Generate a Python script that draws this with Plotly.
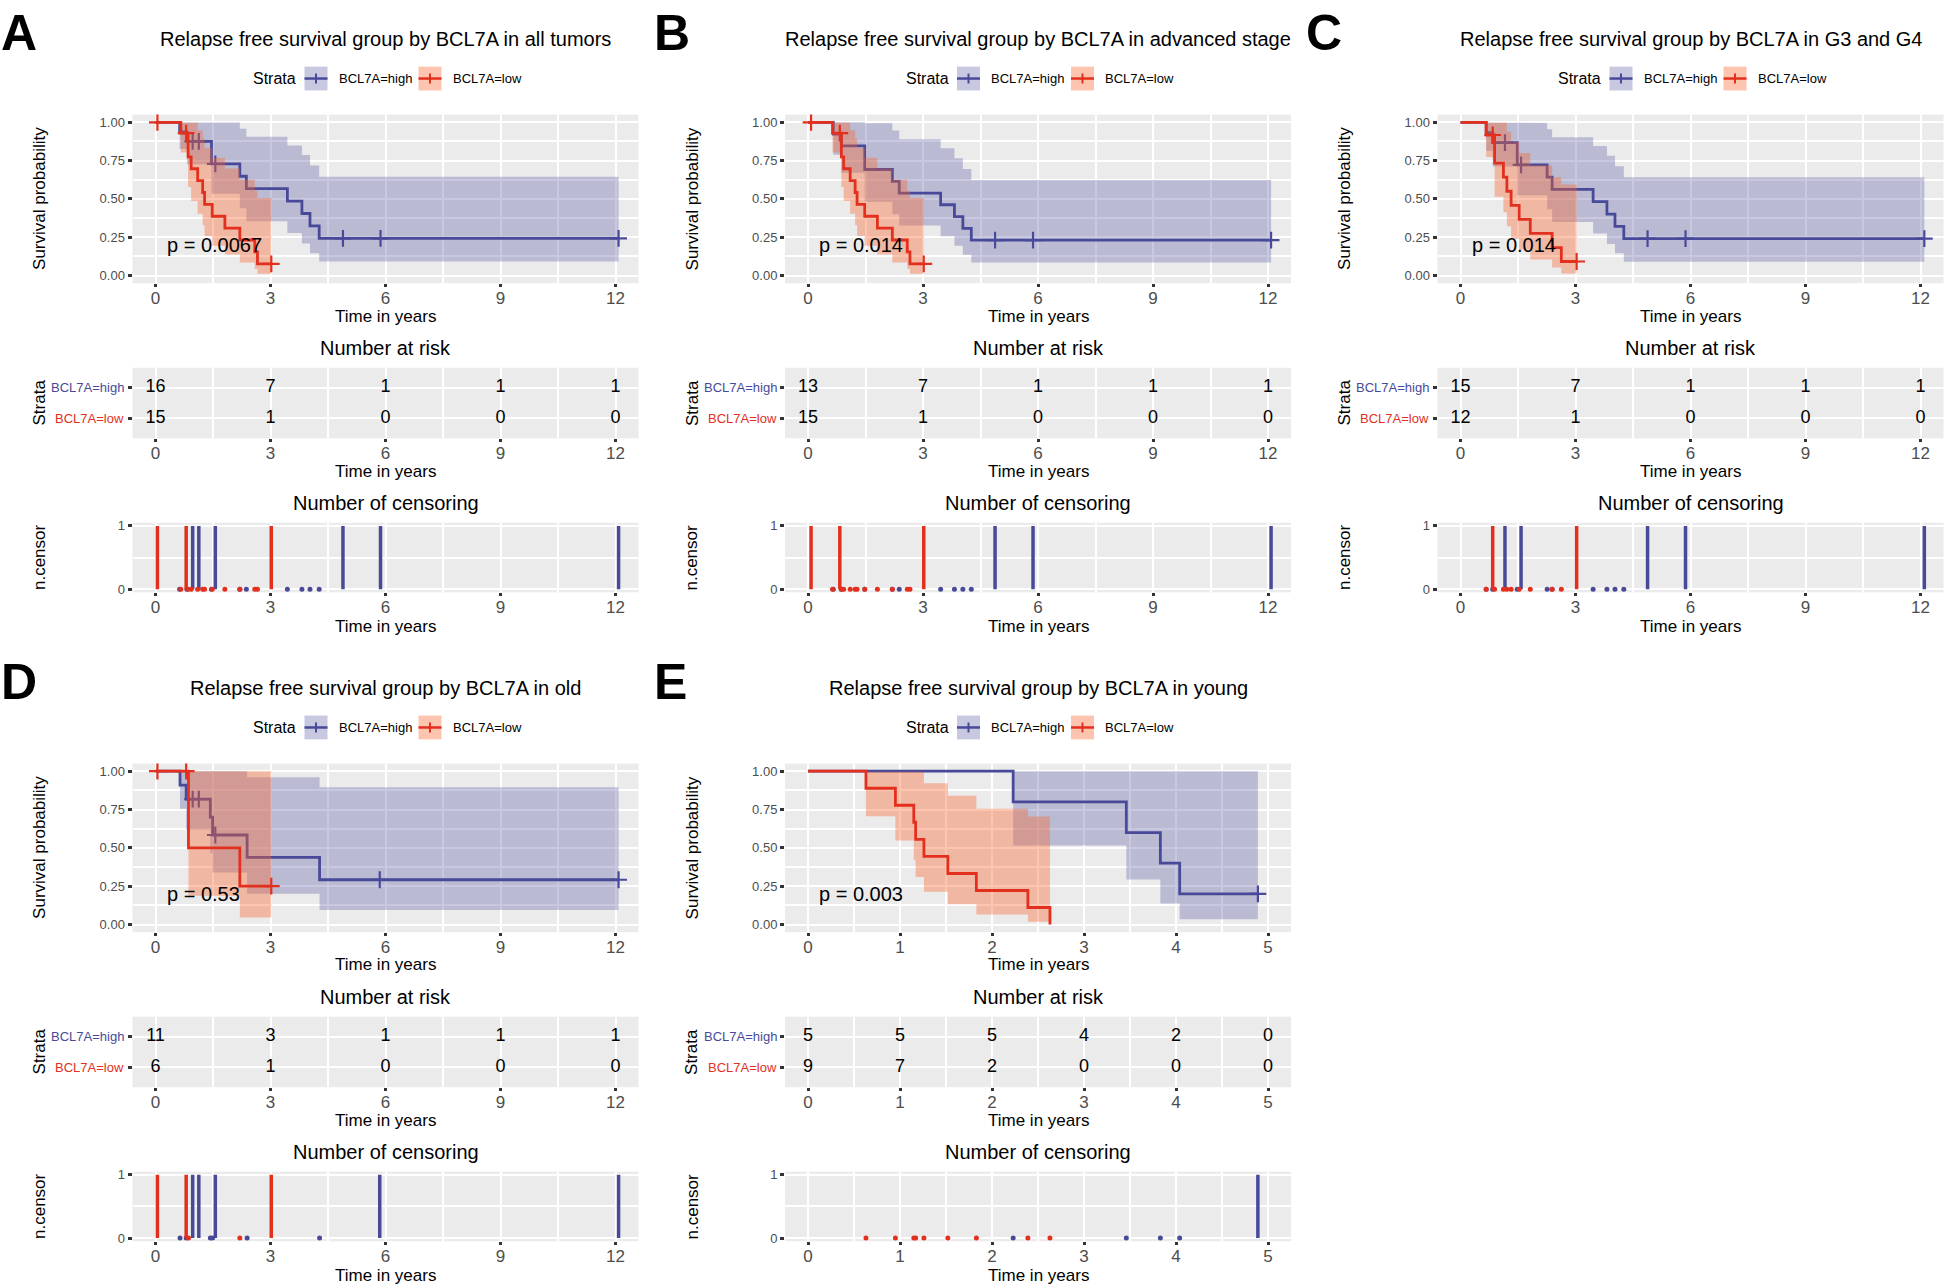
import plotly.graph_objects as go

# ---------------- data ----------------
LETTERS = ["A", "B", "C", "D", "E"]
TITLES = [
    "Relapse free survival group by BCL7A in all tumors",
    "Relapse free survival group by BCL7A in advanced stage",
    "Relapse free survival group by BCL7A in G3 and G4",
    "Relapse free survival group by BCL7A in old",
    "Relapse free survival group by BCL7A in young",
]
P_TEXT = ["p = 0.0067", "p = 0.014", "p = 0.014", "p = 0.53", "p = 0.003"]
GROUPS = ["BCL7A=high", "BCL7A=low"]
TICKS_12 = [0, 3, 6, 9, 12]
TICKS_5 = [0, 1, 2, 3, 4, 5]

# Panel A – all tumors
A_HI_T = [0.63, 0.82, 1.46, 2.20, 2.37, 3.44, 3.82, 4.03, 4.27]
A_HI_S = [0.938, 0.875, 0.729, 0.648, 0.567, 0.486, 0.405, 0.324, 0.243]
A_HI_LO = [0.826, 0.727, 0.533, 0.439, 0.354, 0.278, 0.209, 0.146, 0.092]
A_HI_UP = [1.0, 1.0, 0.998, 0.957, 0.906, 0.849, 0.787, 0.718, 0.644]
A_HI_CT = [0.97, 1.13, 1.56, 4.89, 5.87, 12.08]
A_HI_CS = [0.875, 0.875, 0.729, 0.243, 0.243, 0.243]
A_HI_RISK = [16, 7, 1, 1, 1]
A_LO_T = [0.66, 0.85, 0.93, 1.10, 1.23, 1.28, 1.48, 1.81, 2.20, 2.59, 2.66]
A_LO_S = [0.929, 0.774, 0.697, 0.619, 0.542, 0.464, 0.387, 0.310, 0.232, 0.155, 0.077]
A_LO_LO = [0.803, 0.578, 0.487, 0.404, 0.329, 0.259, 0.195, 0.137, 0.086, 0.043, 0.012]
A_LO_UP = [1.0, 1.0, 0.997, 0.948, 0.894, 0.833, 0.768, 0.699, 0.625, 0.553, 0.506]
A_LO_CT = [0.05, 0.80, 3.02]
A_LO_CS = [1.0, 0.929, 0.077]
A_LO_RISK = [15, 1, 0, 0, 0]

# Panel B – advanced stage
B_HI_T = [0.66, 0.87, 1.48, 2.20, 2.38, 3.46, 3.82, 4.04, 4.26]
B_HI_S = [0.923, 0.846, 0.692, 0.615, 0.538, 0.462, 0.385, 0.308, 0.231]
B_HI_LO = [0.789, 0.671, 0.482, 0.400, 0.326, 0.256, 0.194, 0.136, 0.086]
B_HI_UP = [1.0, 1.0, 0.994, 0.946, 0.890, 0.831, 0.766, 0.696, 0.623]
B_HI_CT = [4.88, 5.87, 12.08]
B_HI_CS = [0.231, 0.231, 0.231]
B_HI_RISK = [13, 7, 1, 1, 1]
B_LO_T = [0.64, 0.87, 0.93, 1.10, 1.23, 1.28, 1.48, 1.81, 2.20, 2.59, 2.66]
B_LO_S = [0.929, 0.774, 0.697, 0.619, 0.542, 0.464, 0.387, 0.310, 0.232, 0.155, 0.077]
B_LO_LO = [0.803, 0.578, 0.487, 0.404, 0.329, 0.259, 0.195, 0.137, 0.086, 0.043, 0.012]
B_LO_UP = [1.0, 1.0, 0.997, 0.948, 0.894, 0.833, 0.768, 0.699, 0.625, 0.553, 0.506]
B_LO_CT = [0.08, 0.83, 3.02]
B_LO_CS = [1.0, 0.929, 0.077]
B_LO_RISK = [15, 1, 0, 0, 0]

# Panel C – G3 and G4
C_HI_T = [0.67, 0.84, 1.48, 2.26, 2.39, 3.46, 3.82, 4.03, 4.26]
C_HI_S = [0.933, 0.867, 0.722, 0.642, 0.562, 0.482, 0.401, 0.321, 0.241]
C_HI_LO = [0.815, 0.711, 0.524, 0.432, 0.350, 0.274, 0.206, 0.145, 0.091]
C_HI_UP = [1.0, 1.0, 0.996, 0.954, 0.903, 0.845, 0.781, 0.713, 0.641]
C_HI_CT = [1.16, 1.58, 4.88, 5.87, 12.10]
C_HI_CS = [0.867, 0.722, 0.241, 0.241, 0.241]
C_HI_RISK = [15, 7, 1, 1, 1]
C_LO_T = [0.67, 0.89, 1.12, 1.21, 1.32, 1.53, 1.82, 2.39, 2.63]
C_LO_S = [0.917, 0.733, 0.642, 0.550, 0.458, 0.367, 0.275, 0.183, 0.092]
C_LO_LO = [0.773, 0.515, 0.413, 0.322, 0.241, 0.168, 0.105, 0.052, 0.014]
C_LO_UP = [1.0, 1.0, 0.997, 0.938, 0.871, 0.799, 0.720, 0.641, 0.594]
C_LO_CT = [0.84, 3.03]
C_LO_CS = [0.917, 0.092]
C_LO_RISK = [12, 1, 0, 0, 0]

# Panel D – old
D_HI_T = [0.64, 0.80, 1.43, 1.49, 2.39, 4.28]
D_HI_S = [0.909, 0.818, 0.701, 0.584, 0.438, 0.292]
D_HI_LO = [0.755, 0.619, 0.465, 0.339, 0.200, 0.095]
D_HI_UP = [1.0, 1.0, 1.0, 1.0, 0.960, 0.896]
D_HI_CT = [0.97, 1.13, 1.56, 5.85, 12.08]
D_HI_CS = [0.818, 0.818, 0.584, 0.292, 0.292]
D_HI_RISK = [11, 3, 1, 1, 1]
D_LO_T = [0.86, 2.20]
D_LO_S = [0.50, 0.25]
D_LO_LO = [0.188, 0.046]
D_LO_UP = [1.0, 1.0]
D_LO_CT = [0.05, 0.80, 3.02]
D_LO_CS = [1.0, 1.0, 0.25]
D_LO_RISK = [6, 1, 0, 0, 0]

# Panel E – young
E_HI_T = [2.23, 3.46, 3.83, 4.04]
E_HI_S = [0.8, 0.6, 0.4, 0.2]
E_HI_LO = [0.516, 0.293, 0.137, 0.035]
E_HI_UP = [1.0, 1.0, 1.0, 1.0]
E_HI_CT = [4.89]
E_HI_CS = [0.2]
E_HI_RISK = [5, 5, 5, 4, 2, 0]
E_LO_T = [0.63, 0.95, 1.15, 1.17, 1.26, 1.52, 1.83, 2.39, 2.63]
E_LO_S = [0.889, 0.778, 0.667, 0.556, 0.444, 0.333, 0.222, 0.111, 0.0]
E_LO_LO = [0.706, 0.548, 0.420, 0.310, 0.214, 0.132, 0.066, 0.018]
E_LO_UP = [1.0, 1.0, 1.0, 0.997, 0.922, 0.840, 0.755, 0.705]
E_LO_CT = []
E_LO_CS = []
E_LO_RISK = [9, 7, 2, 0, 0, 0]

# ---------------- style / layout ----------------
W, H = 1944, 1288
FONT = "Liberation Sans, Arial, Helvetica, sans-serif"
BLUE = "#484A99"
RED = "#E3301E"
BLUE_FILL = "rgba(74,76,154,0.30)"
RED_FILL = "rgba(250,100,45,0.38)"
BG = "#EBEBEB"
TICK_GRAY = "#4D4D4D"

COL_X0 = [132.5, 785.0, 1437.5]
PW = 506.0
ROW_DY = [0.0, 653.0]
KM_Y = (111.3, 281.0)
RISK_Y = (366.0, 437.0)
CENS_Y = (522.0, 592.0)

PANELS = [
    dict(row=0, col=0, ticks=TICKS_12,
         hi=(A_HI_T, A_HI_S, A_HI_LO, A_HI_UP, A_HI_CT, A_HI_CS, A_HI_RISK),
         lo=(A_LO_T, A_LO_S, A_LO_LO, A_LO_UP, A_LO_CT, A_LO_CS, A_LO_RISK)),
    dict(row=0, col=1, ticks=TICKS_12,
         hi=(B_HI_T, B_HI_S, B_HI_LO, B_HI_UP, B_HI_CT, B_HI_CS, B_HI_RISK),
         lo=(B_LO_T, B_LO_S, B_LO_LO, B_LO_UP, B_LO_CT, B_LO_CS, B_LO_RISK)),
    dict(row=0, col=2, ticks=TICKS_12,
         hi=(C_HI_T, C_HI_S, C_HI_LO, C_HI_UP, C_HI_CT, C_HI_CS, C_HI_RISK),
         lo=(C_LO_T, C_LO_S, C_LO_LO, C_LO_UP, C_LO_CT, C_LO_CS, C_LO_RISK)),
    dict(row=1, col=0, ticks=TICKS_12,
         hi=(D_HI_T, D_HI_S, D_HI_LO, D_HI_UP, D_HI_CT, D_HI_CS, D_HI_RISK),
         lo=(D_LO_T, D_LO_S, D_LO_LO, D_LO_UP, D_LO_CT, D_LO_CS, D_LO_RISK)),
    dict(row=1, col=1, ticks=TICKS_5,
         hi=(E_HI_T, E_HI_S, E_HI_LO, E_HI_UP, E_HI_CT, E_HI_CS, E_HI_RISK),
         lo=(E_LO_T, E_LO_S, E_LO_LO, E_LO_UP, E_LO_CT, E_LO_CS, E_LO_RISK)),
]

fig = go.Figure()
layout = {}
annotations = []
shapes = []
axis_count = [0]


def fx(x):
    return x / W


def fy(y):
    return 1 - y / H


def font(size, color="black"):
    return dict(family=FONT, size=size, color=color)


def new_axes(x0, ytop, ybot, xr, yr, xkw, ykw):
    axis_count[0] += 1
    k = axis_count[0]
    xn = "xaxis" if k == 1 else f"xaxis{k}"
    yn = "yaxis" if k == 1 else f"yaxis{k}"
    xref = "x" if k == 1 else f"x{k}"
    yref = "y" if k == 1 else f"y{k}"
    common = dict(zeroline=False, showline=False, ticks="outside", ticklen=4,
                  tickwidth=2.5, tickcolor="#333333", showgrid=True,
                  gridcolor="white", gridwidth=2.4, fixedrange=True)
    xa = dict(common, domain=[fx(x0), fx(x0 + PW)], range=xr, anchor=yref)
    xa.update(xkw)
    ya = dict(common, domain=[fy(ybot), fy(ytop)], range=yr, anchor=xref)
    ya.update(ykw)
    layout[xn] = xa
    layout[yn] = ya
    return xref, yref


def step_path(times, vals, end_t):
    xs, ys = [0.0], [1.0]
    prev = 1.0
    for t, v in zip(times, vals):
        xs += [t, t]
        ys += [prev, v]
        prev = v
    xs.append(end_t)
    ys.append(prev)
    return xs, ys


def text_ann(x, y, text, size, color="black", xanchor="center", angle=0, xref="paper", yref="paper"):
    annotations.append(dict(x=x, y=y, xref=xref, yref=yref, text=text, showarrow=False,
                            xanchor=xanchor, yanchor="middle", textangle=angle,
                            font=font(size, color)))


for pi, P in enumerate(PANELS):
    x0 = COL_X0[P["col"]]
    dy = ROW_DY[P["row"]]
    cx = x0 + PW / 2
    ticks = P["ticks"]
    xmax = ticks[-1]
    step = ticks[1] - ticks[0]
    pad = 0.05 * xmax
    xr = [-pad, xmax + pad]
    xkw = dict(tickmode="linear", tick0=0, dtick=step, ticklabelstandoff=-4, ticklen=3,
               tickfont=font(17, TICK_GRAY),
               minor=dict(tick0=0, dtick=step / 2, showgrid=True, gridcolor="white", gridwidth=1.9))
    groups = [(P["hi"], BLUE, BLUE_FILL), (P["lo"], RED, RED_FILL)]

    # ---- letter, title, legend ----
    annotations.append(dict(x=fx(x0 - 132.5), y=fy(0 + dy) if dy else 1.0, xref="paper", yref="paper",
                            text="<b>%s</b>" % LETTERS[pi], showarrow=False, xanchor="left",
                            yanchor="top", borderpad=0,
                            font=dict(family=FONT, size=50, color="black")))
    text_ann(fx(cx), fy(35 + dy), TITLES[pi], 20)
    ly = 75 + dy
    text_ann(fx(cx - 111), fy(ly), "Strata", 16)
    for (kx0, lab_x, (_, color, fill), name) in [
            (cx - 81, cx - 49, groups[0], GROUPS[0]),
            (cx + 33, cx + 65, groups[1], GROUPS[1])]:
        shapes.append(dict(type="rect", xref="paper", yref="paper", x0=fx(kx0), x1=fx(kx0 + 23),
                           y0=fy(ly + 12), y1=fy(ly - 12), fillcolor=fill, line=dict(width=0)))
        shapes.append(dict(type="line", xref="paper", yref="paper", x0=fx(kx0), x1=fx(kx0 + 23),
                           y0=fy(ly), y1=fy(ly), line=dict(color=color, width=2.5)))
        shapes.append(dict(type="line", xref="paper", yref="paper", x0=fx(kx0 + 11.5), x1=fx(kx0 + 11.5),
                           y0=fy(ly - 5), y1=fy(ly + 5), line=dict(color=color, width=2)))
        text_ann(fx(lab_x), fy(ly), name, 13, xanchor="left")

    # ---- KM plot ----
    kt, kb = KM_Y[0] + dy, KM_Y[1] + dy
    xref, yref = new_axes(x0, kt, kb, xr, [-0.05, 1.05], xkw,
                          dict(tickmode="linear", tick0=0, dtick=0.25, tickformat=".2f",
                               tickfont=font(13, TICK_GRAY),
                               minor=dict(tick0=0, dtick=0.125, showgrid=True, gridcolor="white",
                                          gridwidth=1.9)))
    # per group: band, curve, censor marks (blue first, red drawn on top)
    for (T, S, LO, UP, CT, CS, RISK), color, fill in groups:
        end_t = max(T[-1], CT[-1] if CT else 0)
        nb = len(LO)
        band_end = T[nb] if nb < len(T) else end_t
        ux, uy = step_path(T[:nb], UP, band_end)
        lx, lyy = step_path(T[:nb], LO, band_end)
        fig.add_trace(go.Scatter(x=ux + lx[::-1], y=uy + lyy[::-1], xaxis=xref, yaxis=yref,
                                 mode="lines", fill="toself", fillcolor=fill,
                                 line=dict(width=0), hoverinfo="skip"))
        fig.add_trace(go.Scatter(x=[0.0] + T + [end_t], y=[1.0] + S + [S[-1]],
                                 xaxis=xref, yaxis=yref, mode="lines", line_shape="hv",
                                 line=dict(color=color, width=2.8)))
        if CT:
            fig.add_trace(go.Scatter(x=CT, y=CS, xaxis=xref, yaxis=yref, mode="markers",
                                     marker=dict(symbol="cross-thin", size=12, color=color,
                                                 line=dict(width=2.2, color=color))))
    annotations.append(dict(x=xmax / 50, y=0.2, xref=xref, yref=yref, text=P_TEXT[pi],
                            showarrow=False, xanchor="left", yanchor="middle", font=font(20)))
    text_ann(fx(x0 - 92.5), fy((kt + kb) / 2), "Survival probability", 17, angle=-90)
    text_ann(fx(cx), fy(314 + dy), "Time in years", 17)

    # ---- risk table ----
    rt, rb = RISK_Y[0] + dy, RISK_Y[1] + dy
    xref, yref = new_axes(x0, rt, rb, xr, [0.35, 2.65], xkw,
                          dict(tickmode="array", tickvals=[1, 2], showticklabels=False))
    for (T, S, LO, UP, CT, CS, RISK), color, fill in groups:
        row_y = 2 if color == BLUE else 1
        fig.add_trace(go.Scatter(x=ticks, y=[row_y] * len(ticks), xaxis=xref, yaxis=yref,
                                 mode="text", text=[str(v) for v in RISK],
                                 textposition="middle center", textfont=font(18)))
    for gname, color, row_y in [(GROUPS[0], BLUE, 2), (GROUPS[1], RED, 1)]:
        annotations.append(dict(x=fx(x0 - 6.5), y=row_y, xref="paper", yref=yref, text=gname,
                                showarrow=False, xanchor="right", yanchor="middle",
                                font=font(13, color)))
    text_ann(fx(cx), fy(346 + dy), "Number at risk", 20)
    text_ann(fx(x0 - 93), fy((rt + rb) / 2), "Strata", 17, angle=-90)
    text_ann(fx(cx), fy(470 + dy), "Time in years", 17)

    # ---- censoring plot ----
    ct_, cb_ = CENS_Y[0] + dy, CENS_Y[1] + dy
    xref, yref = new_axes(x0, ct_, cb_, xr, [-0.05, 1.05], xkw,
                          dict(tickmode="array", tickvals=[0, 1], ticktext=["0", "1"],
                               tickfont=font(13, TICK_GRAY),
                               minor=dict(tickvals=[0.5], showgrid=True, gridcolor="white",
                                          gridwidth=1.9)))
    for (T, S, LO, UP, CT, CS, RISK), color, fill in groups:
        fig.add_trace(go.Scatter(x=T, y=[0] * len(T), xaxis=xref, yaxis=yref, mode="markers",
                                 marker=dict(size=5, color=color)))
        if CT:
            xs, ys = [], []
            for t in CT:
                xs += [t, t, None]
                ys += [0, CT.count(t), None]
            fig.add_trace(go.Scatter(x=xs, y=ys, xaxis=xref, yaxis=yref, mode="lines",
                                     line=dict(color=color, width=3.5)))
    text_ann(fx(cx), fy(502 + dy), "Number of censoring", 20)
    text_ann(fx(x0 - 93), fy((ct_ + cb_) / 2), "n.censor", 17, angle=-90)
    text_ann(fx(cx), fy(626 + dy), "Time in years", 17)

layout.update(dict(width=W, height=H, margin=dict(l=0, r=0, t=0, b=0),
                   paper_bgcolor="white", plot_bgcolor=BG, showlegend=False,
                   font=dict(family=FONT), annotations=annotations, shapes=shapes))
fig.update_layout(**layout)
fig.write_html("out.html", config={"displayModeBar": False},
               post_script="document.body.style.margin='0';document.body.style.overflow='hidden';")
